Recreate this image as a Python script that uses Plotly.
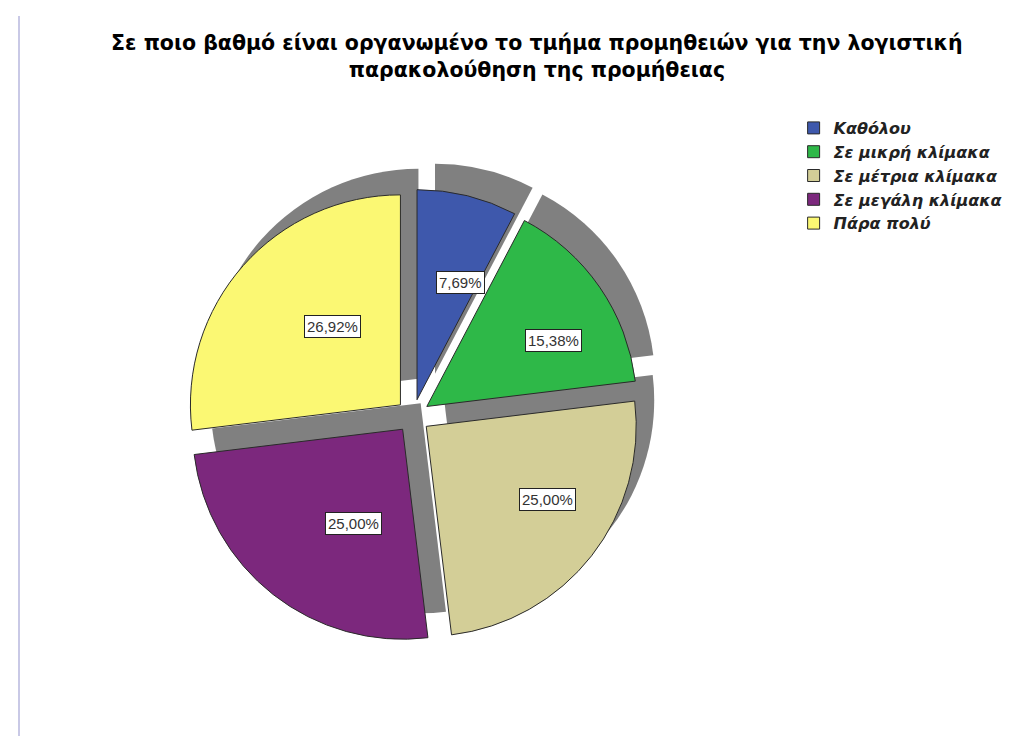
import math
import plotly.graph_objects as go

# ---- data ----
categories = ["Καθόλου", "Σε μικρή κλίμακα", "Σε μέτρια κλίμακα", "Σε μεγάλη κλίμακα", "Πάρα πολύ"]
counts = [4, 8, 13, 13, 14]
colors = ["#3E58AC", "#2EB848", "#D3CE97", "#7C287D", "#FBF873"]
title_text = ("<b>Σε ποιο βαθμό είναι οργανωμένο το τμήμα προμηθειών για την λογιστική</b><br>"
              "<b>παρακολούθηση της προμήθειας</b>")

# ---- geometry (pixels) ----
W, H = 1031, 736
PULL = 0.08
R = 210
CX, CY = 405, 408          # pie box centre
SDX, SDY = 18, -26         # shadow offset
half = R * (1 + PULL)

def dom(cx, cy):
    return dict(x=[(cx - half) / W, (cx + half) / W],
                y=[1 - (cy + half) / H, 1 - (cy - half) / H])

fig = go.Figure()

# gray "3D" shadow pie
fig.add_trace(go.Pie(
    labels=categories, values=counts, sort=False, direction="clockwise", rotation=0,
    pull=[PULL] * len(counts), domain=dom(CX + SDX, CY + SDY),
    marker=dict(colors=["#808080"] * len(counts), line=dict(width=0)),
    textinfo="none", hoverinfo="skip", showlegend=False,
))

# main pie
fig.add_trace(go.Pie(
    labels=categories, values=counts, sort=False, direction="clockwise", rotation=0,
    pull=[PULL] * len(counts), domain=dom(CX, CY),
    marker=dict(colors=colors, line=dict(color="#2a2a2a", width=1)),
    textinfo="none", hovertemplate="%{label}: %{percent:.2%}<extra></extra>",
))

# percentage labels in boxed annotations
ACX, ACY = CX + 10, CY + 6   # actual rendered pie centre
total = sum(counts)
cum = 0
annotations = []
for v in counts:
    mid = (cum + v / 2) / total * 2 * math.pi
    cum += v
    d = R * (0.64 + PULL)
    px = ACX + d * math.sin(mid) * 1.05
    py = ACY - d * math.cos(mid) * 0.95
    pct = f"{100 * v / total:.2f}%".replace(".", ",")
    annotations.append(dict(
        x=px / W, y=1 - py / H, xref="paper", yref="paper", text=pct, showarrow=False,
        font=dict(family="Liberation Sans, Arial", size=15, color="#333333"),
        bgcolor="white", bordercolor="#222222", borderwidth=1, borderpad=2,
    ))

fig.update_layout(
    width=W, height=H,
    margin=dict(l=0, r=0, t=0, b=0),
    paper_bgcolor="white", plot_bgcolor="white",
    separators=",.",
    title=dict(text=title_text, x=0.513, xanchor="center", y=1 - 42 / H, yanchor="top",
               yref="container",
               font=dict(family="DejaVu Sans", size=20.5, color="black")),
    legend=dict(x=0.762, y=1 - 103 / H, xanchor="left", yanchor="top",
                font=dict(family="DejaVu Sans", size=16, color="#222222",
                          style="italic", weight="bold"),
                traceorder="normal", itemclick=False, bgcolor="rgba(0,0,0,0)"),
    annotations=annotations,
    shapes=[dict(type="line", xref="paper", yref="paper",
                 x0=11 / W, x1=11 / W, y0=0, y1=1 - 8 / H,
                 line=dict(color="#c9c9e6", width=2))],
)

fig.write_html("out.html")
